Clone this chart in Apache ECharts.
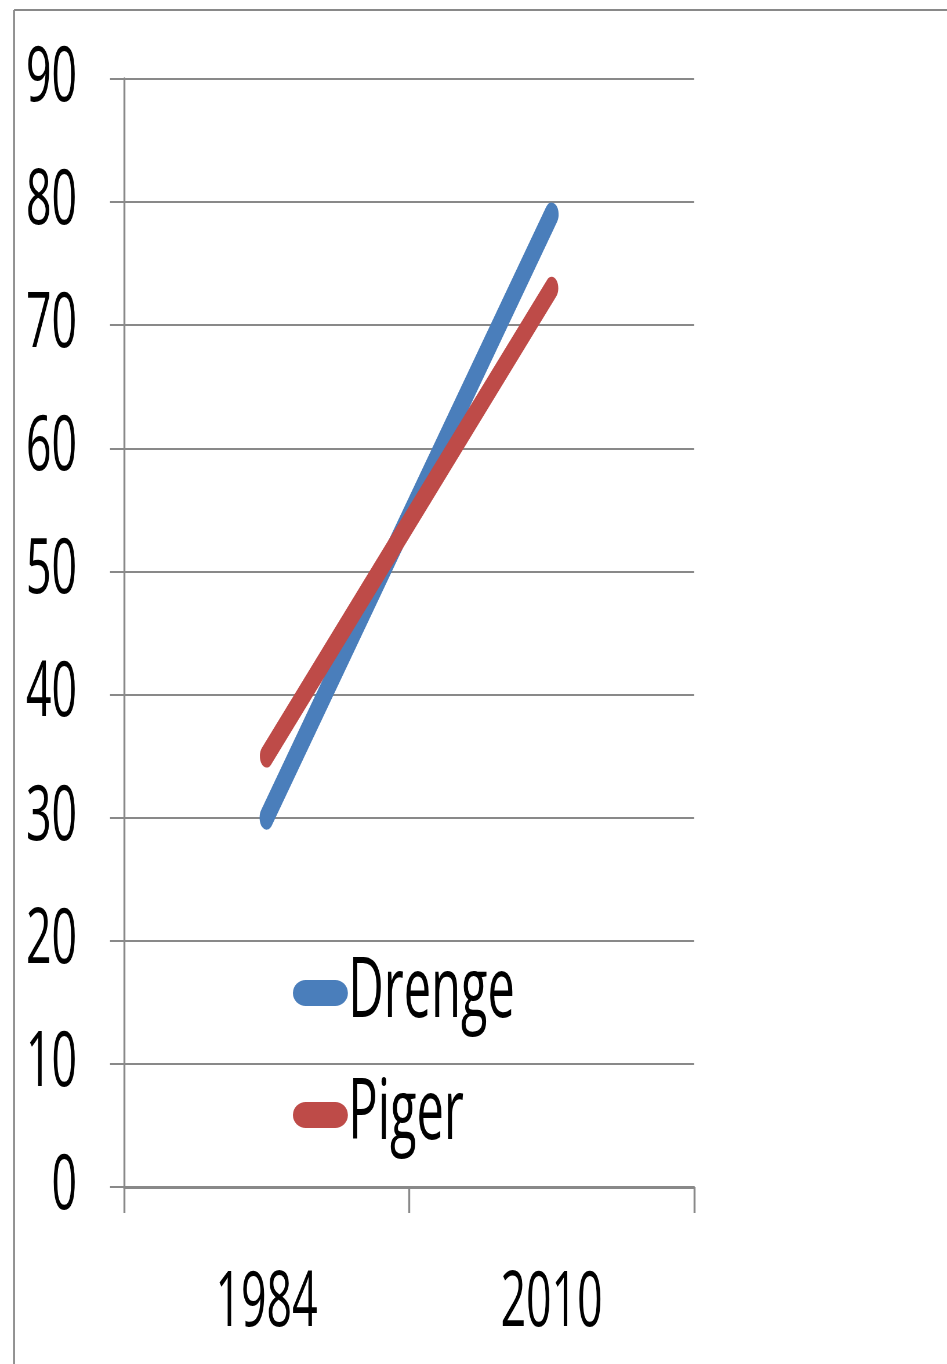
<!DOCTYPE html>
<html>
<head>
<meta charset="utf-8">
<script src="https://cdn.jsdelivr.net/npm/echarts@6/dist/echarts.min.js"></script>
<style>
  html, body { margin: 0; padding: 0; background: #fff; overflow: hidden; }
  #wrap { width: 947px; height: 1364px; overflow: hidden; }
  /* the original chart is drawn with tall, narrow lettering: render wide and squeeze */
  #chart { width: 1633px; height: 1364px; transform: scaleX(0.58); transform-origin: 0 0; }
</style>
</head>
<body>
<div id="wrap"><div id="chart"></div></div>
<script>
// categories and values
var years = ['1984', '2010'];
var drenge = [30, 79];
var piger = [35, 73];
var yTicks = [0, 10, 20, 30, 40, 50, 60, 70, 80, 90];

var SX = 0.58;                      // horizontal squeeze
var FONT = "'Open Sans', 'Liberation Sans', sans-serif";
var GRAY = '#898989';
function px(v) { return v / SX; }   // horizontal size before the squeeze

var chart = echarts.init(document.getElementById('chart'));
var option = {
  animation: false,
  backgroundColor: '#ffffff',
  graphic: [{
    type: 'line',
    shape: { x1: px(14), y1: 10, x2: px(14), y2: 1400 },
    style: { stroke: GRAY, lineWidth: px(2) },
    silent: true
  }, {
    type: 'line',
    shape: { x1: px(14), y1: 10, x2: px(1000), y2: 10 },
    style: { stroke: GRAY, lineWidth: 2 },
    silent: true
  }],
  grid: { left: px(124), right: px(253), top: 79, bottom: 177 },
  legend: {
    orient: 'vertical',
    left: px(290),
    top: 946,
    itemWidth: px(55),
    itemHeight: 26,
    itemGap: 38,
    // pill shape, drawn wide because of the squeeze
    icon: 'path://M22,0 H73 A22,13 0 0 1 73,26 H22 A22,13 0 0 1 22,0 Z',
    textStyle: { fontFamily: FONT, fontSize: 84, lineHeight: 84, color: '#000', padding: [0, 0, 0, -4] },
    data: ['Drenge', 'Piger']
  },
  xAxis: {
    type: 'category',
    data: years,
    boundaryGap: true,
    axisLine: { lineStyle: { color: GRAY, width: 3 } },
    axisTick: { show: true, length: 26, lineStyle: { color: GRAY, width: px(2) } },
    axisLabel: { margin: 79, fontFamily: FONT, fontSize: 77, color: '#000' }
  },
  yAxis: {
    type: 'value',
    min: 0,
    max: 90,
    interval: 10,
    axisLine: { show: true, lineStyle: { color: GRAY, width: px(2) } },
    axisTick: { show: true, length: px(14), lineStyle: { color: GRAY, width: 2 } },
    splitLine: { lineStyle: { color: GRAY, width: 2 } },
    axisLabel: {
      margin: px(47), fontFamily: FONT, fontSize: 77, color: '#000',
      formatter: function (v) { return yTicks.indexOf(v) >= 0 ? String(v) : ''; }
    }
  },
  series: [{
    name: 'Drenge',
    type: 'line',
    data: drenge,
    symbol: 'none',
    itemStyle: { color: '#4a7ebb' },
    lineStyle: { color: '#4a7ebb', width: 24, cap: 'round' }
  }, {
    name: 'Piger',
    type: 'line',
    data: piger,
    symbol: 'none',
    itemStyle: { color: '#be4b48' },
    lineStyle: { color: '#be4b48', width: 23, cap: 'round' }
  }]
};
chart.setOption(option);
</script>
</body>
</html>
